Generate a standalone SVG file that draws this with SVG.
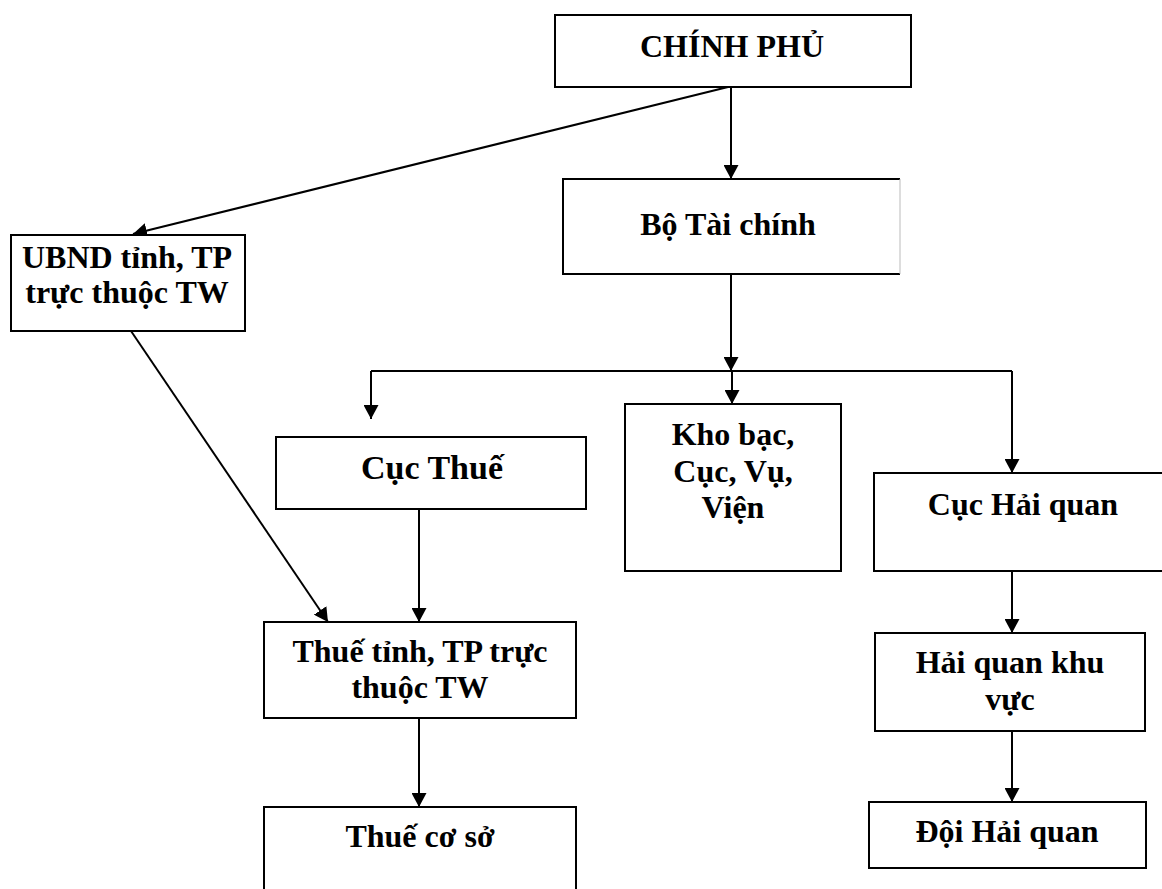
<svg xmlns="http://www.w3.org/2000/svg" width="1162" height="889" viewBox="0 0 1162 889">
<defs>
<style>
.box{fill:#fff;stroke:#000;stroke-width:2}
.t{font-family:"Liberation Serif","Times New Roman",serif;font-weight:bold;font-size:32px;fill:#000;text-anchor:middle}
.c{stroke:#000;stroke-width:2;fill:none}
.a{marker-end:url(#ah)}
</style>
<marker id="ah" viewBox="0 0 14 15" refX="14" refY="7.5" markerWidth="14" markerHeight="15" orient="auto" markerUnits="userSpaceOnUse">
<path d="M0,0 L14,7.5 L0,15 z" fill="#000"/>
</marker>
</defs>
<rect width="1162" height="889" fill="#fff"/>
<g id="connectors">
<line class="c a" x1="731" y1="87" x2="731" y2="179"/>
<line class="c a" x1="728" y1="87" x2="133" y2="234"/>
<line class="c a" x1="731" y1="274" x2="731" y2="371"/>
<polyline class="c" points="371,371 1012,371"/>
<line class="c a" x1="371" y1="371" x2="371" y2="419"/>
<line class="c a" x1="732" y1="371" x2="732" y2="404"/>
<line class="c a" x1="1012" y1="371" x2="1012" y2="473"/>
<line class="c a" x1="131" y1="331" x2="328" y2="622"/>
<line class="c a" x1="419" y1="509" x2="419" y2="622"/>
<line class="c a" x1="419" y1="718" x2="419" y2="807"/>
<line class="c a" x1="1012" y1="545" x2="1012" y2="633"/>
<line class="c a" x1="1012" y1="731" x2="1012" y2="802"/>
</g>
<g id="chinh-phu">
<rect class="box" x="555" y="15" width="356" height="72"/>
<text class="t" x="732" y="57">CHÍNH PHỦ</text>
</g>
<g id="bo-tai-chinh">
<rect x="563" y="179" width="337" height="95" fill="#fff"/>
<path d="M900,179 L563,179 L563,274 L900,274" class="c"/>
<line x1="900" y1="179" x2="900" y2="274" stroke="#bbb" stroke-width="1"/>
<text class="t" x="728" y="235">Bộ Tài chính</text>
</g>
<g id="ubnd">
<rect class="box" x="11" y="235" width="234" height="96"/>
<text class="t" x="127" y="268">UBND tỉnh, TP</text>
<text class="t" x="127" y="303">trực thuộc TW</text>
</g>
<g id="cuc-thue">
<rect class="box" x="276" y="437" width="310" height="72"/>
<text class="t" x="432" y="479" style="font-size:34px">Cục Thuế</text>
</g>
<g id="kho-bac">
<rect class="box" x="625" y="404" width="216" height="167"/>
<text class="t" x="733" y="445">Kho bạc,</text>
<text class="t" x="733" y="482">Cục, Vụ,</text>
<text class="t" x="733" y="518">Viện</text>
</g>
<g id="cuc-hai-quan">
<rect class="box" x="874" y="473" width="295" height="98"/>
<text class="t" x="1023" y="515">Cục Hải quan</text>
</g>
<g id="thue-tinh">
<rect class="box" x="264" y="622" width="312" height="96"/>
<text class="t" x="420" y="662">Thuế tỉnh, TP trực</text>
<text class="t" x="420" y="698">thuộc TW</text>
</g>
<g id="thue-co-so">
<rect class="box" x="264" y="807" width="312" height="100"/>
<text class="t" x="420" y="847">Thuế cơ sở</text>
</g>
<g id="hai-quan-khu-vuc">
<rect class="box" x="875" y="633" width="270" height="98"/>
<text class="t" x="1010" y="673">Hải quan khu</text>
<text class="t" x="1010" y="710">vực</text>
</g>
<g id="doi-hai-quan">
<rect class="box" x="869" y="802" width="277" height="66"/>
<text class="t" x="1007" y="842">Đội Hải quan</text>
</g>
</svg>
